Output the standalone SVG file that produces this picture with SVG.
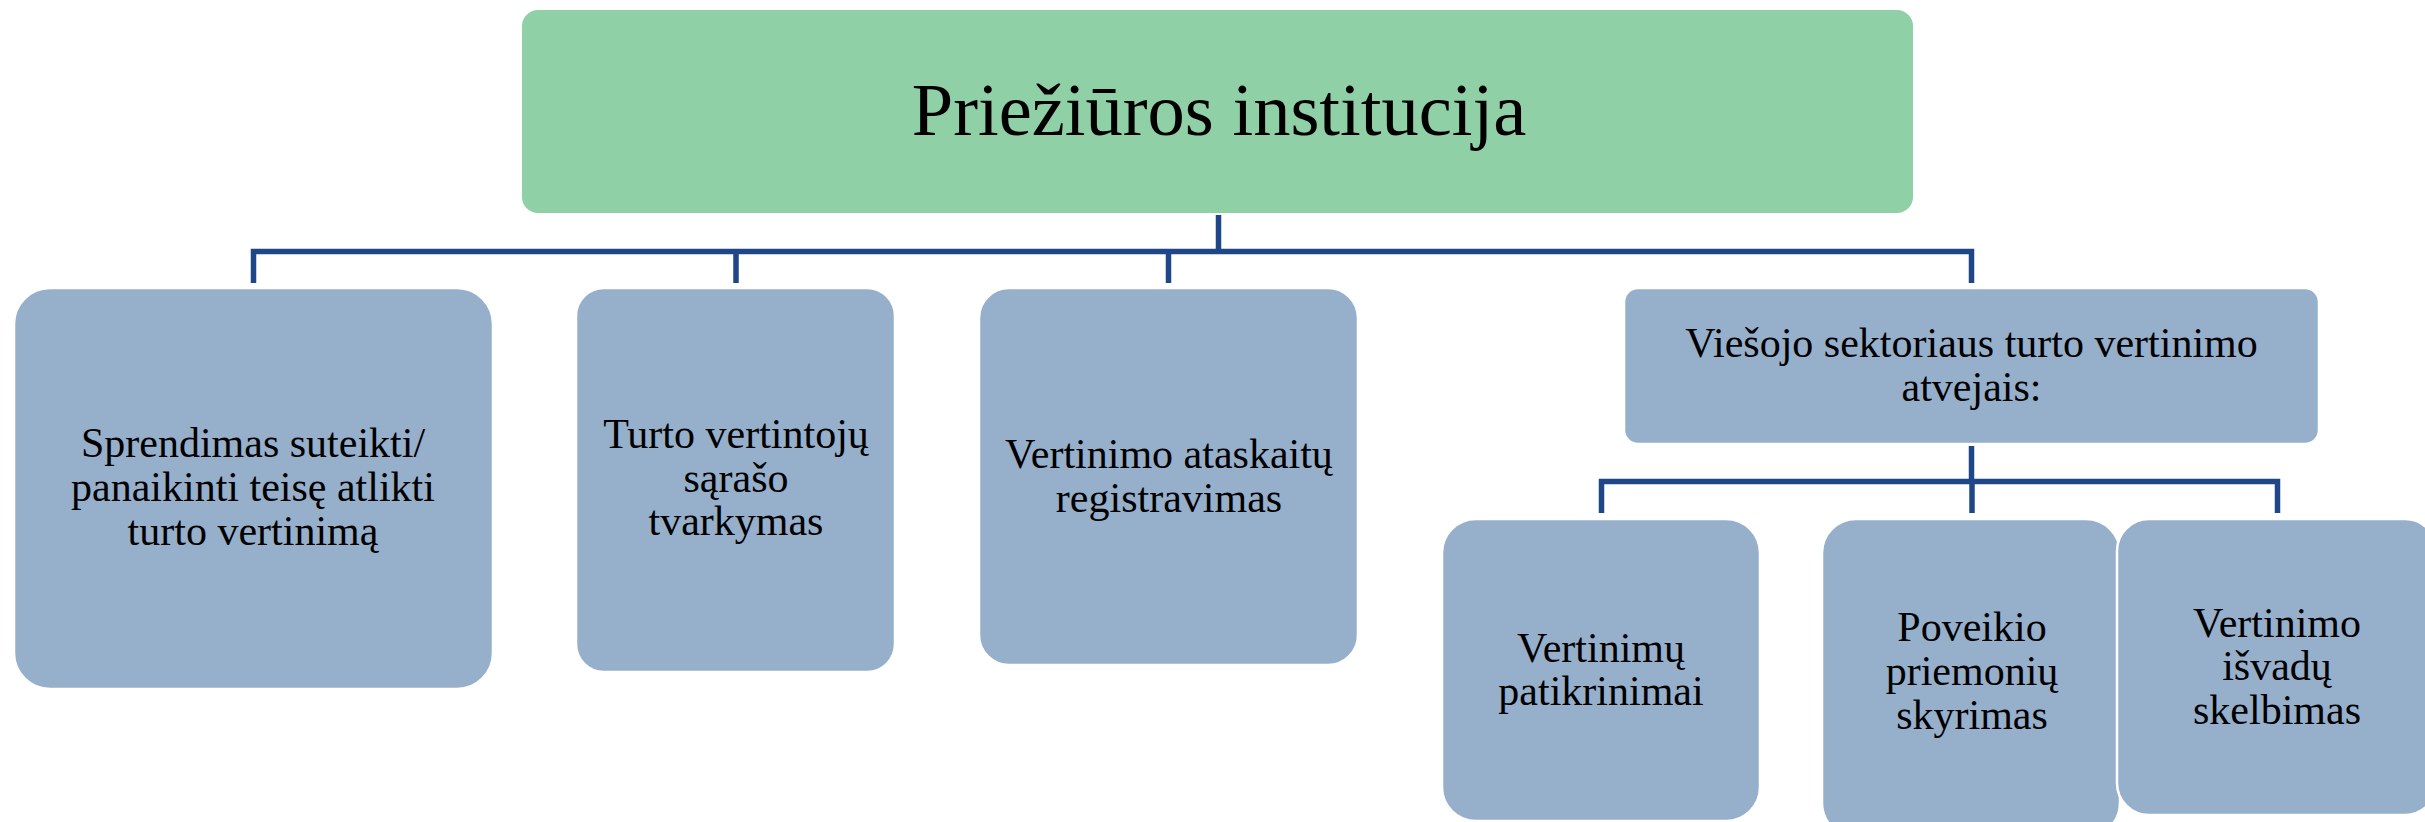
<svg xmlns="http://www.w3.org/2000/svg" width="2425" height="822" viewBox="0 0 2425 822">
<style>
.box{fill:#96AFCB;stroke:#ffffff;stroke-width:2.5}
.top{fill:#8FD0A6;stroke:#ffffff;stroke-width:2}
.t{font-family:"Liberation Serif","Times New Roman",serif;font-size:42px;fill:#000;text-anchor:middle}
.title{font-family:"Liberation Serif","Times New Roman",serif;font-size:74.5px;fill:#000;text-anchor:middle}
.conn{fill:none;stroke:#1F4788;stroke-width:5.5;stroke-linejoin:miter}
</style>
<rect width="2425" height="822" fill="#ffffff"/>
<g id="connectors">
<path class="conn" d="M1218.5,214 V251.5"/>
<path class="conn" d="M253.5,283 V251.5 H1971.5 V283"/>
<path class="conn" d="M736,251.5 V283"/>
<path class="conn" d="M1168.5,251.5 V283"/>
<path class="conn" d="M1971.5,446 V481.5"/>
<path class="conn" d="M1601.5,513 V481.5 H2277.5 V513"/>
<path class="conn" d="M1972,481.5 V513"/>
</g>
<g id="node-top">
<rect class="top" x="521" y="9" width="1393" height="205" rx="17"/>
<text class="title" x="1219" y="135">Priežiūros institucija</text>
</g>
<g id="node-sprendimas">
<rect class="box" x="14" y="288" width="479" height="401" rx="36"/>
<text class="t" x="253" y="457">Sprendimas suteikti/</text>
<text class="t" x="253" y="501">panaikinti teisę atlikti</text>
<text class="t" x="253" y="545">turto vertinimą</text>
</g>
<g id="node-sarasas">
<rect class="box" x="576" y="288" width="319" height="384" rx="28"/>
<text class="t" x="736" y="448">Turto vertintojų</text>
<text class="t" x="736" y="491.5">sąrašo</text>
<text class="t" x="736" y="535">tvarkymas</text>
</g>
<g id="node-registravimas">
<rect class="box" x="979" y="288" width="379" height="377" rx="30"/>
<text class="t" x="1169" y="468">Vertinimo ataskaitų</text>
<text class="t" x="1169" y="512">registravimas</text>
</g>
<g id="node-viesojo">
<rect class="box" x="1624" y="288" width="695" height="156" rx="14"/>
<text class="t" x="1971.5" y="357">Viešojo sektoriaus turto vertinimo</text>
<text class="t" x="1971.5" y="401">atvejais:</text>
</g>
<g id="node-patikrinimai">
<rect class="box" x="1442" y="519" width="318" height="302" rx="34"/>
<text class="t" x="1601" y="662">Vertinimų</text>
<text class="t" x="1601" y="705">patikrinimai</text>
</g>
<g id="node-poveikio">
<rect class="box" x="1822" y="519" width="298" height="318" rx="34"/>
<text class="t" x="1972" y="641">Poveikio</text>
<text class="t" x="1972" y="685">priemonių</text>
<text class="t" x="1972" y="729">skyrimas</text>
</g>
<g id="node-isvados">
<rect class="box" x="2117" y="519" width="320" height="296" rx="32"/>
<text class="t" x="2277" y="637">Vertinimo</text>
<text class="t" x="2277" y="680">išvadų</text>
<text class="t" x="2277" y="724">skelbimas</text>
</g>
</svg>
